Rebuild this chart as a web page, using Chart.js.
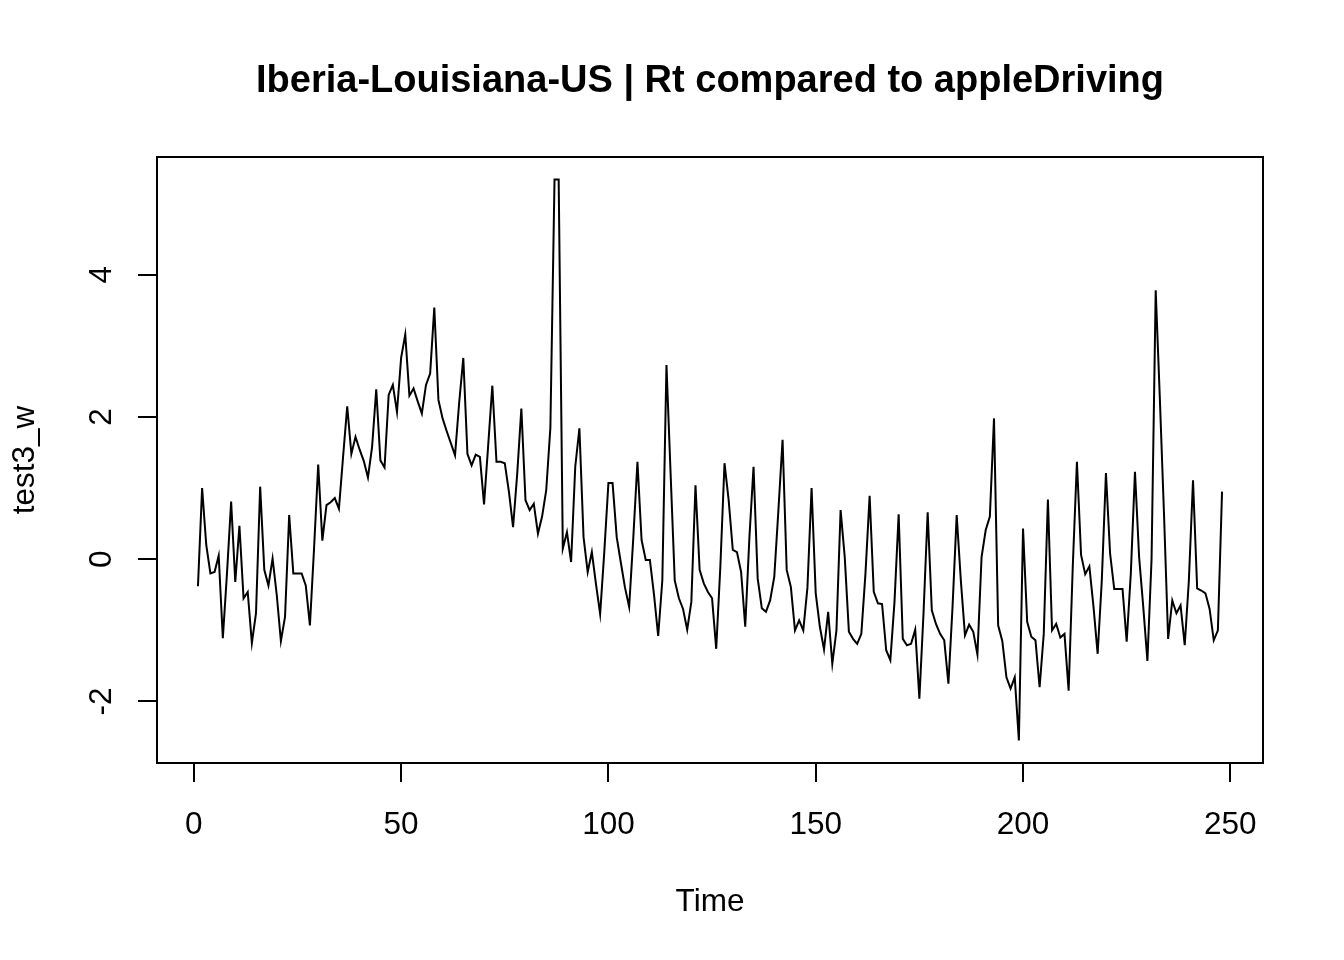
<!DOCTYPE html>
<html>
<head>
<meta charset="utf-8">
<title>Iberia-Louisiana-US | Rt compared to appleDriving</title>
<script src="https://cdn.jsdelivr.net/npm/chart.js@4.4.1/dist/chart.umd.min.js"></script>
<style>
  html, body { margin: 0; padding: 0; background: #fff; }
  #wrap { width: 1344px; height: 960px; }
</style>
</head>
<body>
<div id="wrap"><canvas id="tsCanvas" width="1344" height="960"></canvas></div>
<script>
// series test3_w, one value per time step (t = 1 .. 248)
var values = [
  -0.38, 1.0, 0.2, -0.2, -0.18, 0.05, -1.11, -0.2, 0.81, -0.32,
  0.47, -0.55, -0.46, -1.18, -0.76, 1.02, -0.15, -0.37, 0.01, -0.5,
  -1.15, -0.81, 0.62, -0.2, -0.2, -0.2, -0.37, -0.93, 0.15, 1.33,
  0.26, 0.76, 0.8, 0.86, 0.71, 1.44, 2.15, 1.48, 1.72, 1.54,
  1.38, 1.15, 1.58, 2.39, 1.39, 1.29, 2.31, 2.45, 2.07, 2.83,
  3.16, 2.3, 2.4, 2.22, 2.05, 2.45, 2.61, 3.54, 2.24, 1.98,
  1.8, 1.63, 1.46, 2.2, 2.83, 1.48, 1.32, 1.47, 1.44, 0.77,
  1.6, 2.44, 1.37, 1.37, 1.35, 0.95, 0.45, 1.2, 2.12, 0.83,
  0.69, 0.78, 0.36, 0.6, 0.97, 1.85, 5.34, 5.34, 0.15, 0.38,
  -0.04, 1.3, 1.84, 0.31, -0.18, 0.1, -0.35, -0.77, 0.1, 1.07,
  1.07, 0.31, -0.05, -0.4, -0.67, 0.3, 1.37, 0.27, -0.01, -0.01,
  -0.5, -1.08, -0.3, 2.73, 1.2, -0.3, -0.55, -0.7, -0.99, -0.6,
  1.04, -0.15, -0.34, -0.46, -0.55, -1.26, -0.1, 1.35, 0.83, 0.13,
  0.1, -0.18, -0.95, 0.3, 1.3, -0.27, -0.69, -0.74, -0.58, -0.25,
  0.69, 1.68, -0.15, -0.39, -1.0, -0.86, -1.0, -0.4, 1.0, -0.48,
  -0.95, -1.27, -0.74, -1.47, -1.0, 0.69, 0.03, -1.02, -1.12, -1.19,
  -1.05, -0.2, 0.89, -0.46, -0.62, -0.63, -1.28, -1.42, -0.6, 0.63,
  -1.12, -1.21, -1.19, -0.99, -1.96, -0.76, 0.66, -0.72, -0.91, -1.05,
  -1.14, -1.75, -0.67, 0.62, -0.3, -1.07, -0.92, -1.02, -1.34, 0.03,
  0.41, 0.6, 1.98, -0.93, -1.15, -1.66, -1.82, -1.66, -2.55, 0.43,
  -0.88, -1.09, -1.14, -1.8, -1.05, 0.84, -1.0, -0.91, -1.1, -1.05,
  -1.85, -0.1, 1.37, 0.06, -0.21, -0.1, -0.67, -1.33, -0.3, 1.21,
  0.08, -0.42, -0.42, -0.42, -1.16, -0.2, 1.23, 0.03, -0.67, -1.43,
  0.0, 3.78, 2.26, 0.64, -1.12, -0.58, -0.76, -0.65, -1.21, -0.3,
  1.11, -0.41, -0.44, -0.48, -0.7, -1.14, -1.0, 0.95
];

// time index of the ts object
var startTime = 1;
var times = values.map(function (v, i) { return startTime + i; });

var xTicks = [0, 50, 100, 150, 200, 250];
var yTicks = [-2, 0, 2, 4];

var titleText = 'Iberia-Louisiana-US | Rt compared to appleDriving';
var xTitle = 'Time';
var yTitle = 'test3_w';

var fontFamily = "'Liberation Sans', Arial, sans-serif";

// R pads the axis range by 4% on each side
function paddedRange(arr) {
  var lo = Math.min.apply(null, arr);
  var hi = Math.max.apply(null, arr);
  var pad = (hi - lo) * 0.04;
  return [lo - pad, hi + pad];
}
var xRange = paddedRange(times);
var yRange = paddedRange(values);

// plot frame like box() in base graphics
var boxPlugin = {
  id: 'rbox',
  afterDraw: function (chart) {
    var a = chart.chartArea;
    var c = chart.ctx;
    c.save();
    c.strokeStyle = '#000';
    c.lineWidth = 2;
    c.strokeRect(a.left, a.top, a.right - a.left, a.bottom - a.top);
    c.restore();
  }
};

Chart.defaults.font.family = fontFamily;
Chart.defaults.color = '#000';

var ctx = document.getElementById('tsCanvas').getContext('2d');

var tsChart = new Chart(ctx, {
  type: 'line',
  data: {
    labels: times,
    datasets: [{
      label: yTitle,
      data: values,
      borderColor: '#000',
      borderWidth: 2,
      pointRadius: 0,
      tension: 0,
      fill: false
    }]
  },
  options: {
    responsive: false,
    devicePixelRatio: 1,
    animation: false,
    events: [],
    layout: { padding: { left: 0, right: 81, top: 0, bottom: 0 } },
    plugins: {
      legend: { display: false },
      tooltip: { enabled: false },
      title: {
        display: true,
        text: titleText,
        fullSize: false,
        color: '#000',
        font: { family: fontFamily, size: 38, weight: 'bold', lineHeight: 1.2 },
        padding: { top: 59, bottom: 52.4 }
      }
    },
    scales: {
      x: {
        type: 'linear',
        min: xRange[0],
        max: xRange[1],
        afterFit: function (scale) { scale.height = 197; },
        afterBuildTicks: function (scale) {
          scale.ticks = xTicks.map(function (v) { return { value: v }; });
        },
        grid: { drawOnChartArea: false, drawTicks: true, tickLength: 19, color: '#000', lineWidth: 2 },
        border: { display: false },
        ticks: {
          color: '#000',
          padding: 24.8,
          maxRotation: 0,
          autoSkip: false,
          font: { family: fontFamily, size: 31.5 }
        },
        title: {
          display: true,
          text: xTitle,
          color: '#000',
          font: { family: fontFamily, size: 31.5, lineHeight: 1.2 },
          padding: { top: 0, bottom: 38.7 }
        }
      },
      y: {
        type: 'linear',
        min: yRange[0],
        max: yRange[1],
        afterFit: function (scale) { scale.width = 157; },
        afterBuildTicks: function (scale) {
          scale.ticks = yTicks.map(function (v) { return { value: v }; });
        },
        grid: { drawOnChartArea: false, drawTicks: true, tickLength: 19, color: '#000', lineWidth: 2 },
        border: { display: false },
        ticks: {
          color: '#000',
          padding: 22,
          minRotation: 90,
          maxRotation: 90,
          crossAlign: 'center',
          autoSkip: false,
          font: { family: fontFamily, size: 31.5 }
        },
        title: {
          display: true,
          text: yTitle,
          color: '#000',
          font: { family: fontFamily, size: 31.5, lineHeight: 1.2 },
          padding: { top: 6.1, bottom: 0 }
        }
      }
    }
  },
  plugins: [boxPlugin]
});
</script>
</body>
</html>
